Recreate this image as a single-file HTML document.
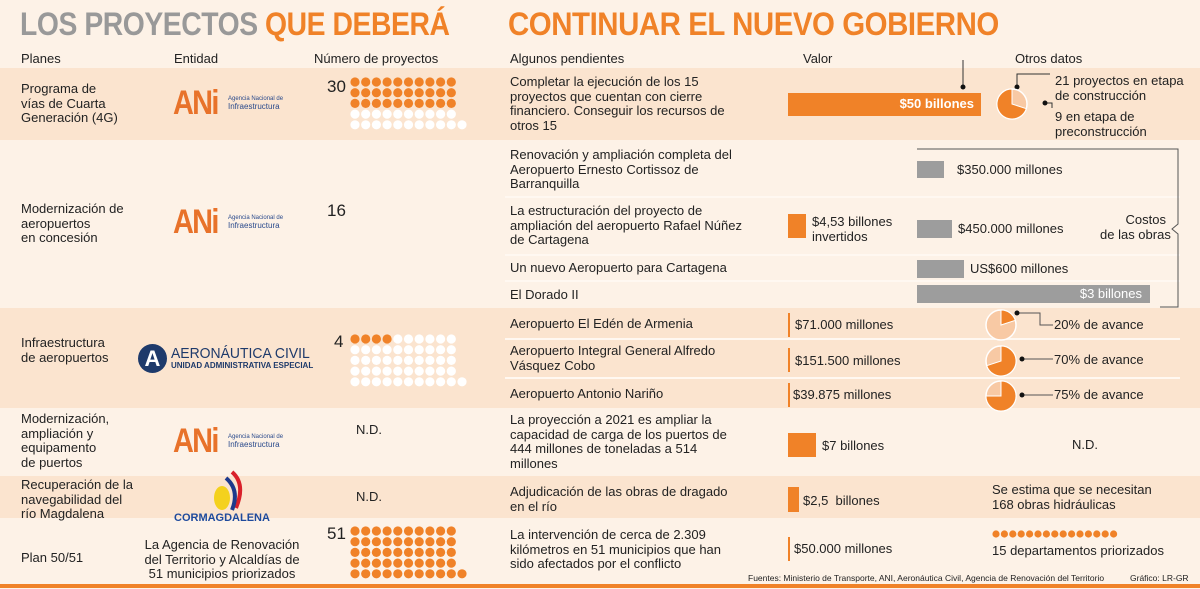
<!DOCTYPE html>
<html><head><meta charset="utf-8">
<style>
*{margin:0;padding:0;box-sizing:border-box}
body{width:1200px;height:589px;overflow:hidden;background:#fdf2e7;font-family:"Liberation Sans",sans-serif;color:#222;position:relative}
.a{position:absolute;white-space:nowrap}
.t{font-size:13px;line-height:14.5px}
.band{position:absolute;left:0;width:1200px;background:#fbe4cf}
.hd{font-size:13px;color:#222}
.or{background:#f08228;position:absolute}
.gr{background:#9d9d9d;position:absolute}
.sep{position:absolute;height:2px;background:#fff8f1;left:505px;width:675px}
.ani{position:absolute;font-weight:bold;color:#e8722a;font-size:34px;letter-spacing:-2px;transform:scaleX(0.85);transform-origin:left}
.anis{position:absolute;color:#2a4a8c;font-size:6px;line-height:7px}
.anis b{font-size:8px;font-weight:normal}
.ttl{font-size:32px;font-weight:bold;letter-spacing:-0.5px;transform-origin:left top}
</style></head><body>
<div class="band" style="top:68px;height:72px"></div>
<div class="band" style="top:308px;height:100px"></div>
<div class="band" style="top:476px;height:42px"></div>

<div class="a ttl" style="left:20px;top:6px;transform:scaleX(0.885)"><span style="color:#999">LOS PROYECTOS</span> <span style="color:#f08228">QUE DEBERÁ</span></div>
<div class="a ttl" style="left:508px;top:6px;color:#f08228;transform:scaleX(0.92)">CONTINUAR EL NUEVO GOBIERNO</div>

<div class="a hd" style="left:21px;top:51px">Planes</div>
<div class="a hd" style="left:174px;top:51px">Entidad</div>
<div class="a hd" style="left:314px;top:51px">Número de proyectos</div>
<div class="a hd" style="left:510px;top:51px">Algunos pendientes</div>
<div class="a hd" style="left:803px;top:51px">Valor</div>
<div class="a hd" style="left:1015px;top:51px">Otros datos</div>

<div class="a t" style="left:21px;top:82px">Programa de<br>vías de Cuarta<br>Generación (4G)</div>
<div class="a t" style="left:21px;top:202px">Modernización de<br>aeropuertos<br>en concesión</div>
<div class="a t" style="left:21px;top:336px">Infraestructura<br>de aeropuertos</div>
<div class="a t" style="left:21px;top:412px">Modernización,<br>ampliación y<br>equipamento<br>de puertos</div>
<div class="a t" style="left:21px;top:478px">Recuperación de la<br>navegabilidad del<br>río Magdalena</div>
<div class="a t" style="left:21px;top:551px">Plan 50/51</div>

<div><div class="ani" style="left:173px;top:84px">ANi</div><div class="anis" style="left:228px;top:96px">Agencia Nacional de<br><b>Infraestructura</b></div></div>
<div><div class="ani" style="left:173px;top:203px">ANi</div><div class="anis" style="left:228px;top:215px">Agencia Nacional de<br><b>Infraestructura</b></div></div>
<div><div class="ani" style="left:173px;top:422px">ANi</div><div class="anis" style="left:228px;top:434px">Agencia Nacional de<br><b>Infraestructura</b></div></div>
<div>
<div class="a" style="left:138px;top:344px;width:29px;height:29px;border-radius:50%;background:#1e3a6b;color:#fff;font-weight:bold;font-size:22px;text-align:center;line-height:29px">A</div>
<div class="a" style="left:171px;top:345px;font-size:15px;color:#1e3a6b;transform:scaleX(0.93);transform-origin:left">AERONÁUTICA CIVIL</div>
<div class="a" style="left:171px;top:361px;font-size:8px;color:#1e3a6b;font-weight:bold">UNIDAD ADMINISTRATIVA ESPECIAL</div></div>
<div>
<svg class="a" style="left:210px;top:470px" width="36" height="44"><path d="M22 2 Q36 14 26 38" stroke="#d9202a" stroke-width="4" fill="none"/><path d="M16 8 Q30 20 22 40" stroke="#1e3a8c" stroke-width="4" fill="none"/><ellipse cx="12" cy="28" rx="8" ry="12" fill="#f4d11d"/></svg>
<div class="a" style="left:174px;top:512px;font-size:11px;font-weight:bold;color:#1e4a9c">CORMAGDALENA</div></div>
<div class="a t" style="left:136px;top:538px;text-align:center;width:172px;white-space:normal">La Agencia de Renovación del Territorio y Alcaldías de 51 municipios priorizados</div>

<div class="a" style="left:327px;top:77px;font-size:17px">30</div>
<div class="a" style="left:327px;top:201px;font-size:17px">16</div>
<div class="a" style="left:334px;top:332px;font-size:17px">4</div>
<div class="a t" style="left:356px;top:423px">N.D.</div>
<div class="a t" style="left:356px;top:490px">N.D.</div>
<div class="a" style="left:327px;top:524px;font-size:17px">51</div>
<svg id="dots" class="a" style="left:0;top:0" width="1200" height="589"></svg>

<div class="a t" style="left:510px;top:75px">Completar la ejecución de los 15<br>proyectos que cuentan con cierre<br>financiero. Conseguir los recursos de<br>otros 15</div>
<div class="a t" style="left:510px;top:148px">Renovación y ampliación completa del<br>Aeropuerto Ernesto Cortissoz de<br>Barranquilla</div>
<div class="a t" style="left:510px;top:204px">La estructuración del proyecto de<br>ampliación del aeropuerto Rafael Núñez<br>de Cartagena</div>
<div class="a t" style="left:510px;top:261px">Un nuevo Aeropuerto para Cartagena</div>
<div class="a t" style="left:510px;top:288px">El Dorado II</div>
<div class="a t" style="left:510px;top:317px">Aeropuerto El Edén de Armenia</div>
<div class="a t" style="left:510px;top:344px">Aeropuerto Integral General Alfredo<br>Vásquez Cobo</div>
<div class="a t" style="left:510px;top:387px">Aeropuerto Antonio Nariño</div>
<div class="a t" style="left:510px;top:413px">La proyección a 2021 es ampliar la<br>capacidad de carga de los puertos de<br>444 millones de toneladas a 514<br>millones</div>
<div class="a t" style="left:510px;top:485px">Adjudicación de las obras de dragado<br>en el río</div>
<div class="a t" style="left:510px;top:528px">La intervención de cerca de 2.309<br>kilómetros en 51 municipios que han<br>sido afectados por el conflicto</div>

<div class="sep" style="top:196px"></div>
<div class="sep" style="top:254px"></div>
<div class="sep" style="top:280px"></div>
<div class="sep" style="top:338px"></div>
<div class="sep" style="top:377px"></div>

<div class="or" style="left:788px;top:93px;width:193px;height:23px"></div>
<div class="a" style="left:788px;top:96px;width:186px;text-align:right;color:#fff;font-size:13px;font-weight:bold">$50 billones</div>
<svg class="a" style="left:0;top:0" width="1200" height="589">
<polyline points="963,87 963,60" stroke="#333" fill="none"/><circle cx="963" cy="87" r="2.5" fill="#111"/>
<polyline points="1017,87 1017,74 1050,74" stroke="#333" fill="none"/><circle cx="1017" cy="87" r="2.5" fill="#111"/>
<polyline points="1045,103 1052,103 1052,108" stroke="#333" fill="none"/><circle cx="1045" cy="103" r="2.5" fill="#111"/>
<polyline points="917,149 1178,149 1178,224 1172,229 1178,234 1178,307 1160,307" stroke="#555" fill="none"/>
<polyline points="1017,313 1040,313 1040,325 1053,325" stroke="#555" fill="none"/><circle cx="1017" cy="313" r="2.5" fill="#111"/>
<line x1="1022" y1="359" x2="1053" y2="359" stroke="#555"/><circle cx="1022" cy="359" r="2.5" fill="#111"/>
<line x1="1022" y1="395" x2="1053" y2="395" stroke="#555"/><circle cx="1022" cy="395" r="2.5" fill="#111"/>
</svg>
<svg id="pies" class="a" style="left:0;top:0" width="1200" height="589"></svg>
<div class="a t" style="left:1055px;top:74px">21 proyectos en etapa<br>de construcción</div>
<div class="a t" style="left:1055px;top:110px">9 en etapa de<br>preconstrucción</div>

<div class="gr" style="left:917px;top:161px;width:27px;height:17px"></div>
<div class="a t" style="left:957px;top:163px">$350.000 millones</div>
<div class="or" style="left:788px;top:214px;width:18px;height:24px"></div>
<div class="a t" style="left:812px;top:215px">$4,53 billones<br>invertidos</div>
<div class="gr" style="left:917px;top:220px;width:35px;height:18px"></div>
<div class="a t" style="left:958px;top:222px">$450.000 millones</div>
<div class="gr" style="left:917px;top:260px;width:47px;height:18px"></div>
<div class="a t" style="left:970px;top:262px">US$600 millones</div>
<div class="gr" style="left:917px;top:285px;width:233px;height:18px"></div>
<div class="a t" style="left:917px;top:287px;width:225px;text-align:right;color:#fff">$3 billones</div>
<div class="a t" style="left:1100px;top:213px;width:66px;text-align:right">Costos<br>de las obras</div>

<div class="or" style="left:788px;top:313px;width:2px;height:24px"></div>
<div class="a t" style="left:795px;top:318px">$71.000 millones</div>
<div class="or" style="left:788px;top:348px;width:2px;height:24px"></div>
<div class="a t" style="left:795px;top:354px">$151.500 millones</div>
<div class="or" style="left:788px;top:383px;width:2px;height:24px"></div>
<div class="a t" style="left:793px;top:388px">$39.875 millones</div>
<div class="a t" style="left:1054px;top:318px">20% de avance</div>
<div class="a t" style="left:1054px;top:353px">70% de avance</div>
<div class="a t" style="left:1054px;top:388px">75% de avance</div>

<div class="or" style="left:788px;top:433px;width:28px;height:24px"></div>
<div class="a t" style="left:822px;top:439px">$7 billones</div>
<div class="a t" style="left:1072px;top:438px">N.D.</div>
<div class="or" style="left:788px;top:487px;width:11px;height:25px"></div>
<div class="a t" style="left:803px;top:494px">$2,5&nbsp; billones</div>
<div class="a t" style="left:992px;top:483px">Se estima que se necesitan<br>168 obras hidráulicas</div>
<div class="or" style="left:788px;top:537px;width:2px;height:24px"></div>
<div class="a t" style="left:794px;top:542px">$50.000 millones</div>
<div class="a t" style="left:992px;top:544px">15 departamentos priorizados</div>

<div class="a" style="left:748px;top:573px;font-size:8.5px">Fuentes: Ministerio de Transporte, ANI, Aeronáutica Civil, Agencia de Renovación del Territorio</div>
<div class="a" style="left:1130px;top:573px;font-size:8.5px">Gráfico: LR-GR</div>
<div class="or" style="left:0;top:584px;width:1200px;height:4px"></div>

<script>
const dotGroups=["4g","infra","plan5051"];
const dotTotals=[51,51,51];
const dotFilled=[30,4,51];
const dotOrigins=[[355,82],[355,339],[355,531]];
const deptCount=[15];
const pieLabels=["4g","armenia","vasquez","narino"];
const pieValues=[70,20,70,75];
const pieLightFirst=[true,false,false,false];
const pieCenters=[[1012,104],[1001,325],[1001,361],[1001,396]];
const NS="http://www.w3.org/2000/svg";
const dsvg=document.getElementById('dots');
dotGroups.forEach((g,gi)=>{
  for(let i=0;i<dotTotals[gi];i++){
    const r=Math.min(Math.floor(i/10),4), c=i-r*10;
    const el=document.createElementNS(NS,'circle');
    el.setAttribute('cx',dotOrigins[gi][0]+c*10.7);
    el.setAttribute('cy',dotOrigins[gi][1]+r*10.7);
    el.setAttribute('r',4.6);
    el.setAttribute('fill',i<dotFilled[gi]?'#f08228':'#fff');
    
    
    dsvg.appendChild(el);
  }
});
for(let i=0;i<deptCount[0];i++){
  const el=document.createElementNS(NS,'circle');
  el.setAttribute('cx',996+i*8.4);el.setAttribute('cy',534);el.setAttribute('r',3.6);el.setAttribute('fill','#f08228');
  
  
  dsvg.appendChild(el);
}
const psvg=document.getElementById('pies');
pieValues.forEach((v,i)=>{
  const [cx,cy]=pieCenters[i], R=15;
  const bg=document.createElementNS(NS,'circle');
  bg.setAttribute('cx',cx);bg.setAttribute('cy',cy);bg.setAttribute('r',R);bg.setAttribute('fill','#f8c9a4');bg.setAttribute('stroke','#fff');bg.setAttribute('stroke-width','1.5');
  
  
  psvg.appendChild(bg);
  const s=pieLightFirst[i]?(100-v):0, e=s+v;
  const a0=s/100*2*Math.PI, a1=e/100*2*Math.PI;
  const x0=cx+R*Math.sin(a0), y0=cy-R*Math.cos(a0), x1=cx+R*Math.sin(a1), y1=cy-R*Math.cos(a1);
  const p=document.createElementNS(NS,'path');
  p.setAttribute('d',`M${cx},${cy} L${x0},${y0} A${R},${R} 0 ${v>50?1:0} 1 ${x1},${y1} Z`);
  p.setAttribute('fill','#f08228');p.setAttribute('stroke','#fff');p.setAttribute('stroke-width','1');
  
  
  psvg.appendChild(p);
});
</script>
</body></html>
